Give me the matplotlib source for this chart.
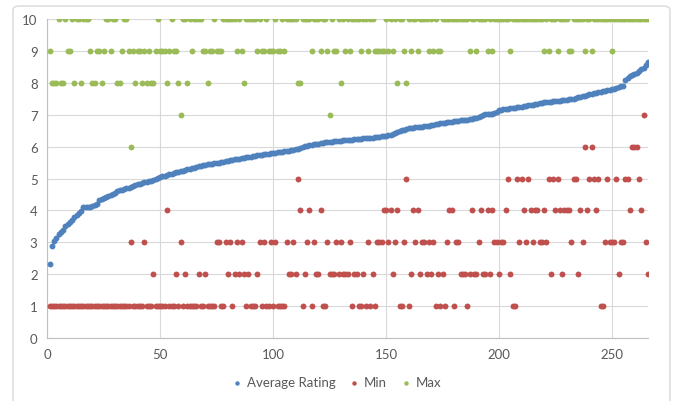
import matplotlib
matplotlib.use("Agg")
import matplotlib.pyplot as plt
from matplotlib.patches import FancyBboxPatch

plt.rcParams['font.family'] = ['Lato', 'DejaVu Sans']

# values, one per item (items 1..266)
avg_rating = [
    2.31, 2.87, 3.03, 3.15, 3.25, 3.32, 3.40, 3.50, 3.58, 3.64,
    3.70, 3.78, 3.85, 3.92, 3.98, 4.10, 4.10, 4.11, 4.12, 4.14,
    4.17, 4.20, 4.33, 4.37, 4.40, 4.42, 4.44, 4.47, 4.50, 4.55,
    4.60, 4.63, 4.65, 4.67, 4.69, 4.70, 4.72, 4.78, 4.80, 4.82,
    4.84, 4.86, 4.88, 4.90, 4.91, 4.93, 4.96, 4.99, 5.02, 5.04,
    5.07, 5.09, 5.11, 5.13, 5.15, 5.17, 5.19, 5.21, 5.23, 5.25,
    5.27, 5.29, 5.31, 5.33, 5.34, 5.36, 5.38, 5.39, 5.41, 5.42,
    5.44, 5.45, 5.46, 5.48, 5.49, 5.50, 5.51, 5.52, 5.54, 5.55,
    5.57, 5.58, 5.60, 5.61, 5.62, 5.64, 5.65, 5.66, 5.68, 5.69,
    5.71, 5.72, 5.73, 5.74, 5.75, 5.76, 5.77, 5.78, 5.79, 5.80,
    5.81, 5.82, 5.83, 5.84, 5.85, 5.86, 5.87, 5.88, 5.89, 5.91,
    5.93, 5.96, 5.99, 6.01, 6.03, 6.05, 6.06, 6.07, 6.08, 6.09,
    6.10, 6.12, 6.13, 6.14, 6.15, 6.16, 6.17, 6.18, 6.18, 6.19,
    6.20, 6.20, 6.21, 6.22, 6.22, 6.23, 6.24, 6.24, 6.25, 6.26,
    6.26, 6.27, 6.28, 6.28, 6.29, 6.30, 6.31, 6.32, 6.33, 6.34,
    6.35, 6.37, 6.40, 6.43, 6.45, 6.48, 6.51, 6.53, 6.55, 6.57,
    6.58, 6.59, 6.60, 6.61, 6.62, 6.63, 6.64, 6.65, 6.66, 6.67,
    6.69, 6.70, 6.71, 6.73, 6.74, 6.75, 6.76, 6.77, 6.78, 6.79,
    6.80, 6.81, 6.82, 6.83, 6.84, 6.85, 6.86, 6.88, 6.89, 6.91,
    6.93, 6.96, 6.99, 7.01, 7.02, 7.02, 7.03, 7.04, 7.10, 7.14,
    7.16, 7.17, 7.18, 7.19, 7.20, 7.21, 7.22, 7.23, 7.24, 7.25,
    7.26, 7.28, 7.29, 7.31, 7.32, 7.34, 7.35, 7.36, 7.38, 7.39,
    7.40, 7.41, 7.41, 7.42, 7.43, 7.44, 7.44, 7.45, 7.46, 7.47,
    7.48, 7.49, 7.50, 7.52, 7.54, 7.56, 7.58, 7.60, 7.62, 7.64,
    7.65, 7.67, 7.68, 7.70, 7.72, 7.73, 7.75, 7.77, 7.78, 7.80,
    7.82, 7.84, 7.86, 7.89, 7.91, 8.09, 8.15, 8.20, 8.24, 8.28,
    8.32, 8.37, 8.42, 8.48, 8.55, 8.64,
]

min_rating = [
    1, 1, 1, 1, 1, 1, 1, 1, 1, 1,
    1, 1, 1, 1, 1, 1, 1, 1, 1, 1,
    1, 1, 1, 1, 1, 1, 1, 1, 1, 1,
    1, 1, 1, 1, 1, 1, 3, 1, 1, 1,
    1, 1, 3, 1, 1, 1, 2, 1, 1, 1,
    1, 1, 4, 1, 1, 1, 2, 1, 3, 1,
    2, 1, 1, 1, 1, 1, 2, 1, 1, 2,
    1, 1, 1, 1, 3, 3, 1, 1, 3, 2,
    3, 1, 2, 3, 2, 3, 2, 1, 2, 1,
    1, 1, 2, 3, 1, 3, 1, 1, 3, 1,
    3, 1, 1, 1, 1, 3, 2, 2, 3, 2,
    5, 4, 1, 2, 3, 4, 1, 3, 2, 2,
    4, 1, 1, 3, 2, 2, 2, 3, 2, 3,
    2, 2, 2, 3, 1, 2, 2, 1, 1, 2,
    1, 3, 1, 2, 1, 3, 3, 3, 4, 4,
    3, 4, 2, 3, 4, 1, 1, 3, 5, 1,
    2, 4, 3, 4, 2, 3, 3, 2, 3, 2,
    3, 1, 2, 1, 2, 1, 3, 4, 4, 1,
    3, 3, 2, 2, 2, 1, 2, 4, 2, 2,
    3, 4, 2, 2, 4, 2, 4, 3, 3, 2,
    3, 3, 4, 5, 2, 1, 1, 5, 3, 5,
    4, 3, 5, 4, 3, 4, 4, 3, 3, 4,
    3, 5, 2, 5, 4, 5, 4, 2, 4, 4,
    4, 3, 5, 5, 2, 4, 3, 6, 4, 5,
    6, 5, 4, 5, 1, 1, 3, 5, 3, 3,
    3, 5, 2, 3, 3, 5, 5, 4, 6, 6,
    6, 5, 4, 7, 3, 2,
]

max_rating = [
    9, 8, 8, 8, 10, 8, 8, 10, 9, 9,
    10, 8, 10, 10, 8, 10, 10, 10, 9, 8,
    8, 9, 9, 8, 9, 10, 10, 9, 10, 10,
    8, 8, 9, 10, 10, 9, 6, 9, 8, 9,
    9, 8, 9, 8, 9, 8, 8, 9, 10, 9,
    9, 9, 8, 9, 10, 9, 9, 8, 7, 10,
    10, 8, 10, 9, 10, 10, 10, 10, 9, 9,
    8, 9, 9, 10, 9, 9, 9, 10, 10, 10,
    10, 10, 10, 9, 10, 9, 8, 10, 10, 10,
    10, 10, 9, 10, 9, 9, 10, 9, 9, 9,
    10, 9, 9, 10, 9, 10, 10, 10, 10, 10,
    8, 8, 10, 10, 10, 10, 9, 10, 10, 10,
    9, 10, 10, 9, 7, 10, 9, 9, 10, 8,
    10, 9, 10, 9, 10, 10, 10, 10, 9, 10,
    10, 9, 10, 10, 9, 9, 9, 9, 9, 10,
    9, 10, 9, 10, 8, 10, 10, 9, 8, 10,
    9, 10, 10, 9, 10, 10, 10, 10, 9, 10,
    9, 10, 9, 9, 10, 10, 10, 10, 10, 10,
    10, 10, 10, 10, 10, 10, 9, 10, 10, 9,
    10, 10, 10, 10, 9, 10, 9, 10, 10, 10,
    10, 10, 10, 10, 9, 10, 10, 10, 10, 10,
    10, 10, 10, 10, 10, 10, 10, 10, 10, 9,
    10, 9, 10, 10, 10, 9, 10, 10, 10, 10,
    9, 9, 10, 10, 10, 10, 10, 9, 10, 10,
    9, 10, 10, 10, 10, 10, 10, 10, 10, 9,
    10, 10, 10, 10, 10, 10, 10, 10, 10, 10,
    10, 10, 10, 10, 10, 10,
]

items = list(range(1, len(avg_rating) + 1))

series = [("Average Rating", avg_rating, "#4F81BD"),
          ("Min", min_rating, "#C0504D"),
          ("Max", max_rating, "#9BBB59")]

fig = plt.figure(figsize=(6.73, 4.02), dpi=100)
ax = fig.add_axes([0.0703, 0.1567, 0.8926, 0.7935])

for name, vals, col in series:
    ax.scatter(items, vals, s=18, color=col, label=name, linewidths=0, zorder=3)

ax.set_xlim(0, 266)
ax.set_ylim(0, 10)
ax.set_xticks(range(0, 251, 50))
ax.set_yticks(range(0, 11))
ax.grid(True, color="#D9D9D9", linewidth=0.8, zorder=0)
ax.set_axisbelow(True)
for side in ["top", "right"]:
    ax.spines[side].set_visible(False)
ax.spines["left"].set_color("#BFBFBF")
ax.spines["bottom"].set_color("#BFBFBF")
ax.tick_params(length=0, labelsize=9.5, labelcolor="#595959", pad=7)

leg = fig.legend(loc="center", bbox_to_anchor=(0.5, 0.047), ncol=3, frameon=False,
                 fontsize=9.5, handlelength=0.8, handletextpad=0.35,
                 columnspacing=1.0, markerscale=0.75)
for t in leg.get_texts():
    t.set_color("#595959")

# light chart border (bottom edge falls outside the image, as in the reference)
border = FancyBboxPatch((0.0193, -0.05), 0.9762, 1.0326, boxstyle="round,pad=0,rounding_size=0.01",
                        transform=fig.transFigure, facecolor="none", edgecolor="#D9D9D9",
                        linewidth=1.0)
fig.patches.append(border)

fig.savefig("out.png", dpi=100)
